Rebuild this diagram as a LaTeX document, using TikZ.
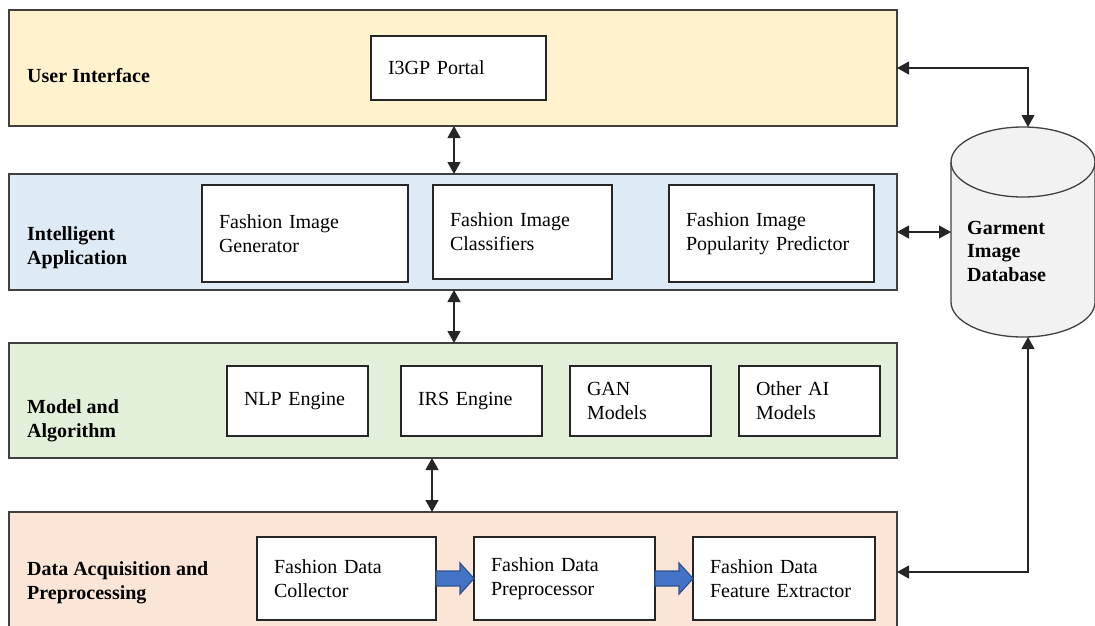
\documentclass[tikz,border=0pt]{standalone}
\usepackage{fontspec}
\setmainfont{Liberation Serif}
\usetikzlibrary{arrows.meta,calc}
\definecolor{uiy}{HTML}{FFF2CC}
\definecolor{iab}{HTML}{DEEBF7}
\definecolor{mag}{HTML}{E2F0D9}
\definecolor{dao}{HTML}{FBE5D6}
\definecolor{edge}{HTML}{404040}
\definecolor{dbfill}{HTML}{F2F2F2}
\definecolor{arrblue}{HTML}{4472C4}
\definecolor{arrdark}{HTML}{2F528F}
\begin{document}
\begin{tikzpicture}[x=1pt,y=-1pt,
  layer/.style={draw=edge, line width=1.3pt, anchor=north west, minimum width=888pt, inner sep=0pt, outer sep=0pt},
  lab/.style={anchor=west, align=left, inner sep=0pt, font=\fontsize{20}{24}\selectfont\bfseries},
  box/.style={draw=black!85, fill=white, line width=1.2pt, anchor=north west, align=left, inner xsep=17pt, inner ysep=0pt, outer sep=0pt, font=\fontsize{20}{24}\selectfont},
  biarrow/.style={draw=black!85, line width=1.1pt, {Triangle[length=12pt,width=13pt]}-{Triangle[length=12pt,width=13pt]}},
  bluearr/.style={fill=arrblue, draw=arrdark, line width=1.2pt, line join=miter}
]
\useasboundingbox (0,0) rectangle (1095,625);
\clip (0,0) rectangle (1095,625);

% layers
\node[layer, fill=uiy, minimum height=116pt] (ui) at (9,10) {};
\node[layer, fill=iab, minimum height=116pt] (ia) at (9,174) {};
\node[layer, fill=mag, minimum height=115pt] (ma) at (9,343) {};
\node[layer, fill=dao, minimum height=130pt] (da) at (9,512) {};

% layer labels
\node[lab] (uil) at (27,76) {User Interface};
\node[lab] (ial) at (27,248) {Intelligent\\Application};
\node[lab] (mal) at (27,421) {Model and\\Algorithm};
\node[lab] (dal) at (27,583) {Data Acquisition and\\Preprocessing};

% boxes
\node[box, text width=141pt, minimum height=64pt] (portal) at (371,36) {I3GP Portal};
\node[box, text width=172pt, minimum height=97pt] (gen) at (202,185) {Fashion Image\\Generator};
\node[box, text width=145pt, minimum height=94pt] (cls) at (433,185) {Fashion Image\\Classifiers};
\node[box, text width=171pt, minimum height=97pt] (pop) at (669,185) {Fashion Image\\Popularity Predictor};

\node[box, text width=107pt, minimum height=70pt] (nlp) at (227,366) {NLP Engine};
\node[box, text width=107pt, minimum height=70pt] (irs) at (401,366) {IRS Engine};
\node[box, text width=107pt, minimum height=70pt] (gan) at (570,366) {GAN\\Models};
\node[box, text width=107pt, minimum height=70pt] (oth) at (739,366) {Other AI\\Models};

\node[box, text width=145pt, minimum height=83pt] (col) at (257,537) {Fashion Data\\Collector};
\node[box, text width=147pt, minimum height=83pt] (pre) at (474,537) {Fashion Data\\Preprocessor};
\node[box, text width=148pt, minimum height=83pt] (ext) at (693,537) {Fashion Data\\Feature Extractor};

% blue process arrows
\foreach \a/\b in {col/pre, pre/ext}{
  \draw[bluearr] ($(\a.east)+(0,-7.5)$) -- ($(\b.west)+(-14,-7.5)$) -- ($(\b.west)+(-14,-15.5)$)
    -- (\b.west) -- ($(\b.west)+(-14,15.5)$) -- ($(\b.west)+(-14,7.5)$) -- ($(\a.east)+(0,7.5)$) -- cycle;
}

% database cylinder
\filldraw[fill=dbfill, draw=edge, line width=1.3pt]
  (951,162) -- (951,302) arc[start angle=180, end angle=0, x radius=72, y radius=35]
  -- (1095,162) arc[start angle=0, end angle=-180, x radius=72, y radius=35] -- cycle;
\draw[draw=edge, line width=1.3pt] (951,162) arc[start angle=180, end angle=0, x radius=72, y radius=35];
\node[minimum width=144pt, minimum height=210pt, inner sep=0pt, outer sep=0pt] (db) at (1023,232) {};
\node[lab, font=\fontsize{20}{23.5}\selectfont\bfseries] (dbl) at (967,251) {Garment\\Image\\Database};

% connectors
\coordinate (vx1) at (454,0);
\coordinate (vx2) at (432,0);
\coordinate (rx) at (1028,0);
\coordinate (dy) at (0,572);
\draw[biarrow] (vx1 |- ui.south) -- (vx1 |- ia.north);
\draw[biarrow] (vx1 |- ia.south) -- (vx1 |- ma.north);
\draw[biarrow] (vx2 |- ma.south) -- (vx2 |- da.north);
\draw[biarrow] (ui.east) -| (rx |- db.north);
\draw[biarrow] (ia.east) -- (ia.east -| db.west);
\draw[biarrow] (da.east |- dy) -| (rx |- db.south);
\end{tikzpicture}
\end{document}
